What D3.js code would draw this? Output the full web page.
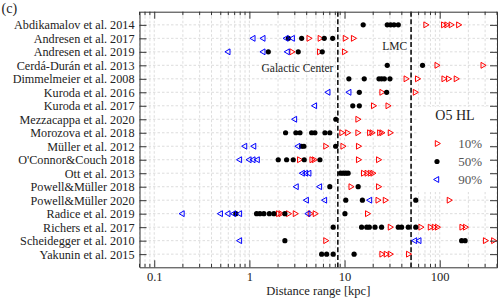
<!DOCTYPE html>
<html>
<head>
<meta charset="utf-8">
<script src="https://cdn.jsdelivr.net/npm/d3@7"></script>
<style>
body { margin: 0; background: #fff; }
text { font-family: "Liberation Serif", "Times New Roman", serif; fill: #222; }
</style>
</head>
<body>
<script>
// Detection distance ranges for the O5 HL network, one row per study

// Studies, top to bottom
var studies = [
    "Abdikamalov et al. 2014", "Andresen et al. 2017", "Andresen et al. 2019",
    "Cerdá-Durán et al. 2013", "Dimmelmeier et al. 2008", "Kuroda et al. 2016",
    "Kuroda et al. 2017", "Mezzacappa et al. 2020", "Morozova et al. 2018",
    "Müller et al. 2012", "O'Connor&Couch 2018", "Ott et al. 2013",
    "Powell&Müller 2018", "Powell&Müller 2020", "Radice et al. 2019",
    "Richers et al. 2017", "Scheidegger et al. 2010", "Yakunin et al. 2015"
];

// Distances (kpc) at 10% detection efficiency, per study
var det10 = [
    [71, 109, 118, 131, 157],
    [4.2, 5.5, 10.1, 12.3],
    [2.78, 5.42, 9.9],
    [93, 283],
    [44, 58, 110, 123, 148],
    [24.5, 55],
    [20, 28.4],
    [13.7],
    [9.3, 10.7, 13.7, 18.2, 19.3, 23.2, 24.5, 30],
    [6.3, 9.55, 13.9],
    [3.34, 4.51, 4.77, 13.9, 22.6],
    [15.7, 17.1, 18.5, 19.7],
    [11.6, 22.6],
    [22.3, 26.6, 125],
    [2.01, 2.13, 2.56, 3.01, 4.33, 4.88, 17.3],
    [30, 63, 79, 87, 94, 170, 185],
    [6.3, 300, 366],
    [24.5, 27.2, 30, 46.7]
];

// Distances (kpc) at 50% detection efficiency, per study
var det50 = [
    [15.7, 28.1, 30.5, 33.1, 36.7],
    [2.57, 3.54, 6.12, 7.5],
    [1.58, 3.26, 5.83],
    [28.1, 66],
    [11.1, 16.1, 23, 24.5, 26.2, 30],
    [14.3, 27.7],
    [12.2, 14.3],
    [8.1],
    [2.4, 3.08, 3.4, 4.51, 4.88, 6.22, 7.0],
    [3.54, 3.74, 8.06],
    [2.01, 2.46, 2.89, 3.77, 5.51],
    [9.1, 9.7, 10.3, 10.9],
    [7.0, 13.9],
    [10.3, 15.4, 56],
    [0.72, 1.19, 1.29, 1.42, 1.62, 1.81, 2.36, 10.1],
    [7.6, 15.1, 17.1, 18.2, 20.9, 24.5, 36.7, 39.8, 46.7, 56],
    [2.36, 170, 185],
    [5.74, 6.48, 7.6, 12.6]
];

// Distances (kpc) at 90% detection efficiency, per study
var det90 = [
    [],
    [1.1, 1.4, 2.45, 2.85],
    [0.6, 1.4, 2.52],
    [],
    [],
    [6.74, 11.2],
    [4.88],
    [3.01],
    [],
    [0.9, 1.12, 3.26],
    [0.795, 1.0, 1.1, 1.22],
    [3.63, 3.93, 4.25],
    [3.13, 5.51],
    [4.0, 6.22, 18.5],
    [0.198, 0.5, 0.6, 0.687, 0.795, 4.15],
    [],
    [0.795, 55, 61],
    []
];

var xTickValues = [0.1, 1, 10, 100];
var refNames = ["Galactic Center", "LMC"];
var refValues = [8.5, 50];
var legendLabels = ["10%", "50%", "90%"];

var width = 498, height = 299;
var plot = {left: 139.5, right: 497, top: 11.7, bottom: 267.3};

var svg = d3.select("body")
    .append("svg")
    .attr("width", width)
    .attr("height", height);

var x = d3.scaleLog()
    .domain([0.07, 400])
    .range([plot.left, plot.right]);

var y = d3.scalePoint()
    .domain(studies)
    .range([plot.top, plot.bottom])
    .padding(0.975);

//Grid: every log tick vertically, every study horizontally
var grid = svg.append("g")
    .attr("stroke", "#d4d4d4")
    .attr("stroke-width", 0.8)
    .attr("stroke-dasharray", "2.5,2");

grid.selectAll(".vgrid")
    .data(x.ticks())
    .enter().append("line")
    .attr("x1", function(d) { return x(d); })
    .attr("x2", function(d) { return x(d); })
    .attr("y1", plot.top)
    .attr("y2", plot.bottom);

grid.selectAll(".hgrid")
    .data(studies)
    .enter().append("line")
    .attr("x1", plot.left)
    .attr("x2", plot.right)
    .attr("y1", function(d) { return y(d); })
    .attr("y2", function(d) { return y(d); });

//Reference distances
svg.selectAll(".ref")
    .data(refValues)
    .enter().append("line")
    .attr("x1", function(d) { return x(d); })
    .attr("x2", function(d) { return x(d); })
    .attr("y1", plot.top)
    .attr("y2", plot.bottom)
    .attr("stroke", "#000")
    .attr("stroke-width", 1.5)
    .attr("stroke-dasharray", "5,2.6");

svg.append("text")
    .attr("x", x(refValues[0]) - 4.5)
    .attr("y", 71.7)
    .attr("text-anchor", "end")
    .style("font-size", "11.5px")
    .text(refNames[0]);

svg.append("text")
    .attr("x", x(refValues[1]) - 4)
    .attr("y", 50)
    .attr("text-anchor", "end")
    .style("font-size", "11.5px")
    .text(refNames[1]);

//Markers
var triangle = d3.symbol().type(d3.symbolTriangle).size(15);

function flatten(arr) {
    var out = [];
    arr.forEach(function(vals, i) {
        vals.forEach(function(v) { out.push({study: studies[i], value: v}); });
    });
    return out;
}

var marks = svg.append("g");

marks.selectAll(".p10")
    .data(flatten(det10))
    .enter().append("path")
    .attr("d", triangle)
    .attr("transform", function(d) {
        return "translate(" + x(d.value) + "," + y(d.study) + ") rotate(90)";
    })
    .attr("fill", "none")
    .attr("stroke", "#ff0000")
    .attr("stroke-width", 1);

marks.selectAll(".p50")
    .data(flatten(det50))
    .enter().append("circle")
    .attr("cx", function(d) { return x(d.value); })
    .attr("cy", function(d) { return y(d.study); })
    .attr("r", 2.6)
    .attr("fill", "#000");

marks.selectAll(".p90")
    .data(flatten(det90))
    .enter().append("path")
    .attr("d", triangle)
    .attr("transform", function(d) {
        return "translate(" + x(d.value) + "," + y(d.study) + ") rotate(-90)";
    })
    .attr("fill", "none")
    .attr("stroke", "#0000ff")
    .attr("stroke-width", 1);

//Axes, ticks pointing inward on all four sides
function styleAxis(g, size) {
    g.select(".domain").attr("stroke", "#333").attr("stroke-width", 1);
    g.selectAll(".tick line").attr("stroke", "#333");
    g.selectAll(".tick text")
        .style("font-size", size + "px")
        .style("font-family", "'Liberation Serif', serif")
        .attr("fill", "#222");
}

var bottomAxis = svg.append("g")
    .attr("transform", "translate(0," + plot.bottom + ")")
    .call(d3.axisBottom(x).tickValues(xTickValues)
        .tickFormat(d3.format("~g")).tickSizeOuter(0)
        .tickSizeInner(-7).tickPadding(5));
styleAxis(bottomAxis, 12.5);

var topAxis = svg.append("g")
    .attr("transform", "translate(0," + plot.top + ")")
    .call(d3.axisTop(x).tickValues(xTickValues)
        .tickFormat("").tickSizeOuter(0).tickSizeInner(-7));
styleAxis(topAxis, 12.5);

//Minor log ticks
var minor = x.ticks().filter(function(d) {
    return xTickValues.indexOf(d) < 0;
});
[plot.top, plot.bottom].forEach(function(yy, k) {
    svg.append("g").selectAll("line")
        .data(minor)
        .enter().append("line")
        .attr("x1", function(d) { return x(d); })
        .attr("x2", function(d) { return x(d); })
        .attr("y1", yy)
        .attr("y2", k === 0 ? yy + 3.5 : yy - 3.5)
        .attr("stroke", "#333");
});

var leftAxis = svg.append("g")
    .attr("transform", "translate(" + plot.left + ",0)")
    .call(d3.axisLeft(y).tickSizeOuter(0).tickSizeInner(-7).tickPadding(5));
styleAxis(leftAxis, 12.2);

var rightAxis = svg.append("g")
    .attr("transform", "translate(" + plot.right + ",0)")
    .call(d3.axisRight(y).tickFormat("").tickSizeOuter(0).tickSizeInner(-7));
styleAxis(rightAxis, 12.2);

svg.append("text")
    .attr("x", (plot.left + plot.right) / 2)
    .attr("y", 295)
    .attr("text-anchor", "middle")
    .style("font-size", "12.5px")
    .text("Distance range [kpc]");

svg.append("text")
    .attr("x", 1.5)
    .attr("y", 12.5)
    .style("font-size", "14px")
    .text("(c)");

//Legend
var legend = svg.append("g");

legend.append("rect")
    .attr("x", 418)
    .attr("y", 107)
    .attr("width", 71)
    .attr("height", 85)
    .attr("fill", "#fff");

legend.append("text")
    .attr("x", 455)
    .attr("y", 120)
    .attr("text-anchor", "middle")
    .style("font-size", "14px")
    .text("O5 HL");

var rowY = [143.5, 161.5, 179.5];

legend.append("path")
    .attr("d", triangle)
    .attr("transform", "translate(437," + rowY[0] + ") rotate(90)")
    .attr("fill", "none")
    .attr("stroke", "#ff0000");

legend.append("circle")
    .attr("cx", 437)
    .attr("cy", rowY[1])
    .attr("r", 2.6)
    .attr("fill", "#000");

legend.append("path")
    .attr("d", triangle)
    .attr("transform", "translate(437," + rowY[2] + ") rotate(-90)")
    .attr("fill", "none")
    .attr("stroke", "#0000ff");

legend.selectAll(".ltext")
    .data(legendLabels)
    .enter().append("text")
    .attr("x", 482)
    .attr("y", function(d, i) { return rowY[i] + 4.5; })
    .attr("text-anchor", "end")
    .style("font-size", "13px")
    .style("fill", "#555")
    .text(function(d) { return d; });
</script>
</body>
</html>
